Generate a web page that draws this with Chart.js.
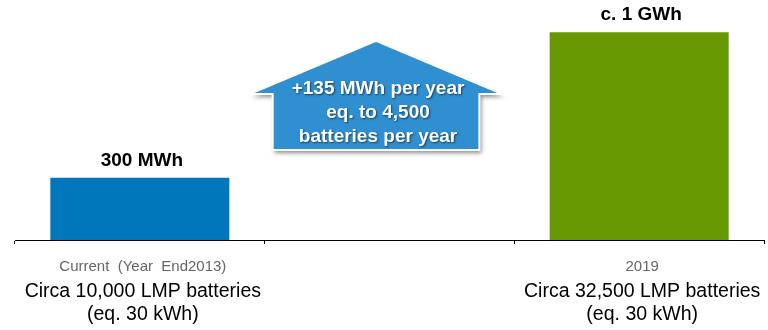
<!DOCTYPE html>
<html>
<head>
<meta charset="utf-8">
<script src="https://cdn.jsdelivr.net/npm/chart.js@4/dist/chart.umd.min.js"></script>
<style>
  html, body { margin: 0; padding: 0; background: #ffffff; }
  #wrap { width: 768px; height: 330px; position: relative; }
</style>
</head>
<body>
<div id="wrap"><canvas id="c"></canvas></div>
<script>
// Installed battery capacity, MWh
const categories   = ['Current  (Year  End2013)', '', '2019'];
const fleetLabels  = ['Circa 10,000 LMP batteries', '', 'Circa 32,500 LMP batteries'];
const unitLabels   = ['(eq. 30 kWh)', '', '(eq. 30 kWh)'];
const capacityMWh  = [300, null, 1000];
const valueLabels  = ['300 MWh', '', 'c. 1 GWh'];
const growthLines  = ['+135 MWh per year', 'eq. to 4,500', 'batteries per year'];

const FONT = "'Liberation Sans', Arial, Helvetica, sans-serif";

// Value captions above each bar
const valueLabelPlugin = {
  id: 'valueLabels',
  afterDatasetsDraw(chart) {
    const { ctx } = chart;
    const meta = chart.getDatasetMeta(0);
    ctx.save();
    ctx.font = 'bold 19px ' + FONT;
    ctx.fillStyle = '#000';
    ctx.textAlign = 'center';
    ctx.textBaseline = 'middle';
    meta.data.forEach((bar, i) => {
      if (!valueLabels[i] || capacityMWh[i] == null) return;
      ctx.fillText(valueLabels[i], bar.x + 2, bar.y - 17);
    });
    ctx.restore();
  }
};

// Three-line category captions under the axis
const categoryCaptionPlugin = {
  id: 'categoryCaptions',
  afterDraw(chart) {
    const { ctx } = chart;
    const x = chart.scales.x;
    const base = chart.chartArea.bottom;
    ctx.save();
    ctx.textAlign = 'center';
    ctx.textBaseline = 'middle';
    categories.forEach((cat, i) => {
      const cx = x.getPixelForValue(i) + 3;
      ctx.font = '15px ' + FONT;
      ctx.fillStyle = '#666666';
      ctx.fillText(cat, cx, base + 27);
      ctx.font = '19.5px ' + FONT;
      ctx.fillStyle = '#000';
      ctx.fillText(fleetLabels[i], cx, base + 52);
      ctx.fillText(unitLabels[i], cx, base + 75);
    });
    ctx.restore();
  }
};

// Upward arrow callout over the middle category
const growthArrowPlugin = {
  id: 'growthArrow',
  afterDatasetsDraw(chart) {
    const { ctx } = chart;
    const x = chart.scales.x, y = chart.scales.y;
    const catW = x.getPixelForValue(2) - x.getPixelForValue(1);
    const cx = x.getPixelForValue(1) - 0.054 * catW;
    const wing = 0.504 * catW, body = 0.414 * catW;
    const apex = y.getPixelForValue(958);
    const shoulder = y.getPixelForValue(703);
    const bottom = y.getPixelForValue(433);

    ctx.save();
    ctx.beginPath();
    ctx.moveTo(cx, apex);
    ctx.lineTo(cx + wing, shoulder);
    ctx.lineTo(cx + body, shoulder);
    ctx.lineTo(cx + body, bottom);
    ctx.lineTo(cx - body, bottom);
    ctx.lineTo(cx - body, shoulder);
    ctx.lineTo(cx - wing, shoulder);
    ctx.closePath();
    ctx.shadowColor = 'rgba(0,0,0,0.45)';
    ctx.shadowBlur = 4;
    ctx.shadowOffsetX = 2;
    ctx.shadowOffsetY = 3;
    ctx.fillStyle = '#2f8fd0';
    ctx.fill();
    ctx.shadowColor = 'transparent';
    ctx.lineWidth = 2;
    ctx.strokeStyle = '#ffffff';
    ctx.stroke();

    ctx.font = 'bold 19px ' + FONT;
    ctx.fillStyle = '#ffffff';
    ctx.textAlign = 'center';
    ctx.textBaseline = 'middle';
    ctx.shadowColor = 'rgba(0,0,0,0.55)';
    ctx.shadowBlur = 2;
    ctx.shadowOffsetX = 1;
    ctx.shadowOffsetY = 1;
    const first = shoulder - 5;
    growthLines.forEach((line, i) => {
      ctx.fillText(line, cx + 2, first + i * 24);
    });
    ctx.restore();
  }
};

new Chart(document.getElementById('c'), {
  type: 'bar',
  data: {
    labels: categories,
    datasets: [{
      data: capacityMWh,
      backgroundColor: ['#0077bb', '#0077bb', '#669900'],
      borderWidth: 0,
      categoryPercentage: 1,
      barPercentage: 0.717
    }]
  },
  options: {
    responsive: true,
    maintainAspectRatio: false,
    animation: false,
    devicePixelRatio: 1,
    layout: { padding: { top: 1, left: 15, right: 4, bottom: 0 } },
    plugins: {
      legend: { display: false },
      tooltip: { enabled: false }
    },
    scales: {
      x: {
        offset: true,
        ticks: { display: false },
        grid: {
          display: true,
          offset: true,
          drawOnChartArea: false,
          drawTicks: true,
          tickLength: 4,
          color: '#000',
          lineWidth: 1
        },
        border: { display: true, color: '#000', width: 1 },
        afterFit(scale) { scale.height = 90; }
      },
      y: {
        display: false,
        min: 0,
        max: 1150
      }
    }
  },
  plugins: [valueLabelPlugin, growthArrowPlugin, categoryCaptionPlugin]
});
</script>
</body>
</html>
